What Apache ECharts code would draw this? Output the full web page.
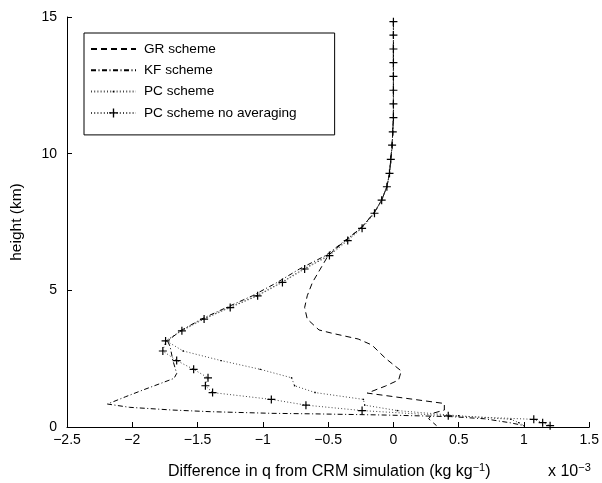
<!DOCTYPE html>
<html>
<head>
<meta charset="utf-8">
<script src="https://cdn.jsdelivr.net/npm/echarts@6/dist/echarts.min.js"></script>
<style>
  html, body { margin: 0; padding: 0; background: #fff; }
  #chart { width: 602px; height: 483px; }
</style>
</head>
<body>
<div id="chart"></div>
<script>
// Model levels (km) used by the PC runs
const levels = [14.83, 14.34, 13.83, 13.33, 12.83, 12.32, 11.82, 11.32, 10.80, 10.31,
  9.79, 9.28, 8.79, 8.30, 7.82, 7.27, 6.82, 6.27, 5.78, 5.29, 4.80, 4.37, 3.95, 3.52,
  3.15, 2.78, 2.43, 2.11, 1.80, 1.51, 1.26, 1.01, 0.80, 0.60, 0.41, 0.28, 0.16, 0.05];

// q difference (x 10^-3 kg/kg), PC scheme without averaging
const pcNoAvg = [0, 0, 0, 0, 0, 0, 0, 0, -0.005, -0.01,
  -0.02, -0.03, -0.05, -0.09, -0.145, -0.24, -0.35, -0.49, -0.68, -0.85, -1.04, -1.25, -1.45, -1.62,
  -1.745, -1.766, -1.66, -1.53, -1.42, -1.44, -1.385, -0.935, -0.67, -0.24, 0.42, 1.075, 1.143, 1.2];

// PC scheme
const pc = [0, 0, 0, 0, 0, 0, 0, 0, -0.005, -0.01,
  -0.02, -0.03, -0.05, -0.09, -0.15, -0.25, -0.36, -0.50, -0.69, -0.86, -1.05, -1.26, -1.46, -1.63,
  -1.74, -1.61, -1.32, -1.02, -0.78, -0.757, -0.60, -0.23, -0.22, 0.03, 0.50, 0.90, 0.96, 1.00];

// GR scheme
const grH = [14.83, 14.34, 13.83, 13.33, 12.83, 12.32, 11.82, 11.32, 10.80, 10.31,
  9.79, 9.28, 8.79, 8.30, 7.82, 7.27, 6.82, 6.27, 5.78, 5.29, 4.80, 4.37, 3.95, 3.55,
  3.43, 3.22, 3.00, 2.51, 2.05, 1.72, 1.50, 1.24, 0.86, 0.62, 0.50, 0.30, 0.05];
const grX = [0, 0, 0, 0, 0, 0, 0, 0, -0.005, -0.01,
  -0.02, -0.03, -0.05, -0.09, -0.15, -0.25, -0.37, -0.50, -0.56, -0.62, -0.66, -0.68, -0.66, -0.57,
  -0.47, -0.27, -0.165, -0.06, 0.06, 0.04, -0.06, -0.20, 0.39, 0.39, 0.30, 0.27, 0.33];

// KF scheme
const kfH = [14.83, 14.34, 13.83, 13.33, 12.83, 12.32, 11.82, 11.32, 10.80, 10.31,
  9.79, 9.28, 8.79, 8.30, 7.82, 7.27, 6.82, 6.27, 5.78, 5.29, 4.80, 4.37, 3.95, 3.52,
  3.15, 2.94, 2.45, 1.96, 1.78, 1.60, 1.35, 1.11, 0.84, 0.72, 0.62, 0.56, 0.50, 0.48,
  0.44, 0.38, 0.30, 0.15, 0.05];
const kfX = [0, 0, 0, 0, 0, 0, 0, 0, -0.005, -0.01,
  -0.02, -0.03, -0.05, -0.09, -0.15, -0.25, -0.37, -0.52, -0.72, -0.89, -1.08, -1.28, -1.47, -1.63,
  -1.73, -1.71, -1.69, -1.66, -1.68, -1.78, -1.92, -2.05, -2.19, -2.02, -1.69, -1.40, -0.93, -0.60,
  -0.09, 0.44, 0.70, 0.90, 1.00];

const seriesNames = ['GR scheme', 'KF scheme', 'PC scheme', 'PC scheme no averaging'];
const xTicks = { min: -2.5, max: 1.5, step: 0.5 };
const yTicks = { min: 0, max: 15, step: 5 };

const pairs = (xs, hs) => xs.map((x, i) => [x, hs[i]]);

// marker shapes padded inside a 10x10 box so the legend and plot sizes agree
const dotSymbol = 'path://M0,0M10,10M4.3,4.3H5.7V5.7H4.3Z';
const plusSymbol = 'path://M0,0M10,10M4.4,1H5.6V4.4H9V5.6H5.6V9H4.4V5.6H1V4.4H4.4Z';

const font = '"Liberation Sans", Arial, Helvetica, sans-serif';
const minus = v => String(v).replace('-', '\u2212');
const clear = 'rgba(0,0,0,0)';

const chart = echarts.init(document.getElementById('chart'), null, { renderer: 'canvas' });
chart.setOption({
  animation: false,
  backgroundColor: '#fff',
  textStyle: { fontFamily: font, color: '#000' },
  grid: { left: 67, right: 10, top: 17, bottom: 56, containLabel: false },
  xAxis: {
    type: 'value', min: xTicks.min, max: xTicks.max, interval: xTicks.step,
    axisLine: { show: true, onZero: false, lineStyle: { color: '#000', width: 1 } },
    axisTick: { show: true, inside: true, length: 5, lineStyle: { color: '#000' } },
    axisLabel: { color: '#000', fontSize: 14, fontFamily: font, margin: 6, formatter: minus },
    splitLine: { show: false }
  },
  yAxis: {
    type: 'value', min: yTicks.min, max: yTicks.max, interval: yTicks.step,
    name: 'height (km)', nameLocation: 'middle', nameGap: 42,
    nameTextStyle: { color: '#000', fontSize: 15.5, fontFamily: font },
    axisLine: { show: true, onZero: false, lineStyle: { color: '#000', width: 1 } },
    axisTick: { show: true, inside: true, length: 5, lineStyle: { color: '#000' } },
    axisLabel: { color: '#000', fontSize: 14, fontFamily: font, margin: 10 },
    splitLine: { show: false }
  },
  legend: {
    orient: 'vertical', left: 84, top: 33,
    data: [
      { name: seriesNames[0], itemStyle: { color: clear } },
      { name: seriesNames[1], itemStyle: { color: clear } },
      { name: seriesNames[2] },
      { name: seriesNames[3] }
    ],
    itemWidth: 45, itemHeight: 14, itemGap: 7.3,
    padding: [9, 38, 15, 6],
    borderColor: '#000', borderWidth: 1, borderRadius: 0,
    backgroundColor: '#fff',
    textStyle: { color: '#000', fontSize: 13.6, fontFamily: font, padding: [0, 0, 0, 3] },
    selectedMode: false
  },
  graphic: [
    {
      type: 'text', left: 168, top: 462, silent: true,
      style: {
        text: 'Difference in q from CRM simulation (kg kg{sup|\u22121})',
        font: '16px ' + font, fill: '#000',
        rich: { sup: { fontSize: 11, fontFamily: font, verticalAlign: 'top', padding: [0, 0, 8, 0] } }
      }
    },
    {
      type: 'text', left: 548, top: 462, silent: true,
      style: {
        text: 'x 10{sup|\u22123}',
        font: '16px ' + font, fill: '#000',
        rich: { sup: { fontSize: 11, fontFamily: font, verticalAlign: 'top', padding: [0, 0, 8, 0] } }
      }
    }
  ],
  series: [
    {
      name: seriesNames[0], type: 'line', data: pairs(grX, grH),
      symbol: 'none', silent: true,
      lineStyle: { color: '#000', width: 1, type: [6, 4] }, itemStyle: { color: clear }
    },
    {
      name: seriesNames[1], type: 'line', data: pairs(kfX, kfH),
      symbol: 'none', silent: true,
      lineStyle: { color: '#000', width: 1, type: [5, 2.5, 1, 2.5] }, itemStyle: { color: clear }
    },
    {
      name: seriesNames[2], type: 'line', data: pairs(pc, levels),
      symbol: dotSymbol, symbolSize: 10, silent: true,
      lineStyle: { color: '#444', width: 1, type: [1, 2.2] }, itemStyle: { color: '#000' }
    },
    {
      name: seriesNames[3], type: 'line', data: pairs(pcNoAvg, levels),
      symbol: plusSymbol, symbolSize: 10, silent: true,
      lineStyle: { color: '#444', width: 1, type: [1, 2.2] }, itemStyle: { color: '#000' }
    }
  ]
});
</script>
</body>
</html>
